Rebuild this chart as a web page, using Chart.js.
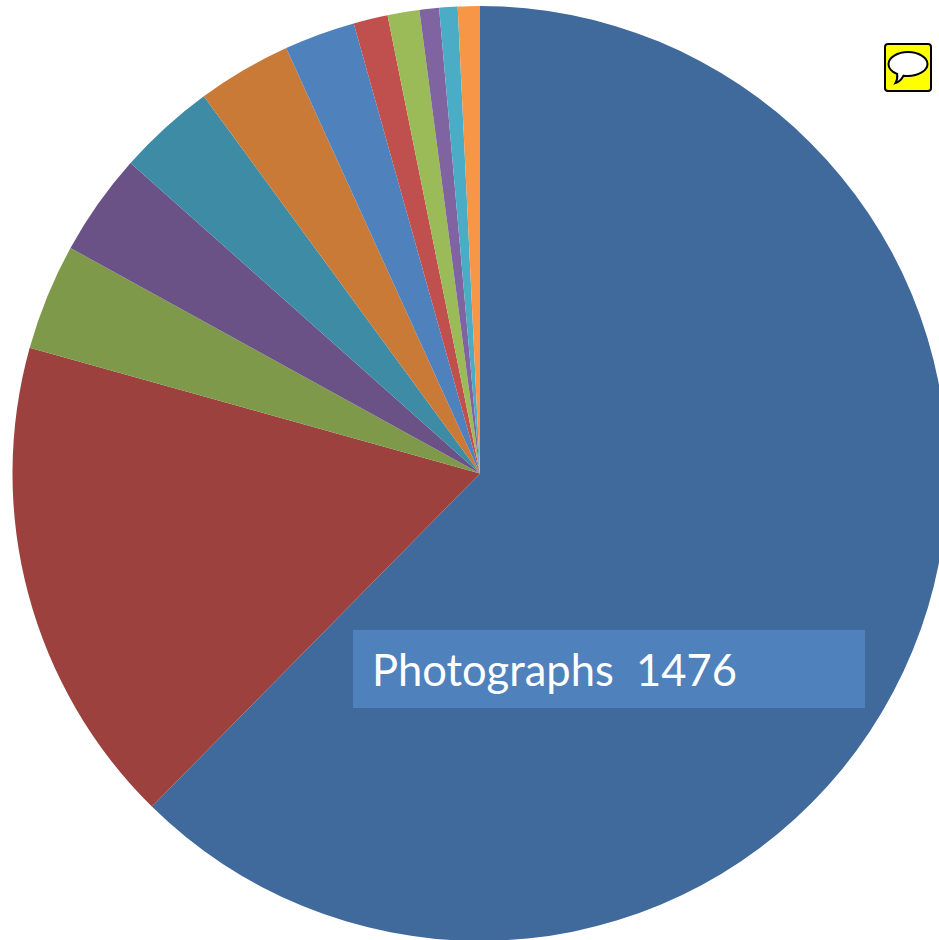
<!DOCTYPE html>
<html>
<head>
<meta charset="utf-8">
<title>Photographs</title>
<script src="https://cdn.jsdelivr.net/npm/chart.js@4"></script>
<style>
  html, body { margin: 0; padding: 0; background: #fff; overflow: hidden; width: 939px; height: 940px; }
  #wrap { position: absolute; left: 0; top: 0; width: 939px; height: 940px; overflow: hidden; }
  #holder { position: absolute; left: 0; top: 0; width: 960px; height: 947px; }
  #note { position: absolute; left: 884px; top: 43px; }
  #label { position: absolute; left: 353px; top: 630px; width: 512px; height: 78px; background: #4f81bd;
           color: #fff; font: 43.5px Lato, sans-serif; line-height: 78px; white-space: pre; text-indent: 19px; }
</style>
</head>
<body>
<div id="wrap">
  <div id="holder"><canvas id="myChart"></canvas></div>
  <div id="label"></div>
  <svg id="note" width="49" height="49" viewBox="0 0 49 49">
    <rect x="1" y="1" width="46" height="47" rx="3" fill="#ffff00" stroke="#000" stroke-width="2"/>
    <path d="M24 9 C34.5 9 43.5 14.5 43.5 21 C43.5 27.5 34.5 33 24 33 C22.5 33 21 32.9 19.5 32.7 C17.5 36.5 15 39 11.5 40 C13 37.5 13.6 34.5 13.2 31 C8 29 4.5 25 4.5 21 C4.5 14.5 13.5 9 24 9 Z"
          fill="#fff" stroke="#000" stroke-width="2"/>
  </svg>
</div>
<script>
// Values, clockwise from 12 o'clock
const categories = ['Photographs', 'B', 'C', 'D', 'E', 'F', 'G', 'H', 'I', 'J', 'K', 'L'];
const values = [1476, 401, 87, 84, 80, 77, 58, 28, 26, 16, 15, 18];
const colors = ['#416a9c', '#9c413e', '#7f994a', '#6a5287', '#3d8ba5', '#ca7a37',
                '#4f81bd', '#c0504d', '#9bbb59', '#8064a2', '#4bacc6', '#f79646'];

document.getElementById('label').textContent = categories[0] + '  ' + values[0];

const ctx = document.getElementById('myChart').getContext('2d');

const myChart = new Chart(ctx, {
  type: 'pie',
  data: {
    labels: categories,
    datasets: [{
      data: values,
      backgroundColor: colors,
      borderWidth: 0,
      radius: 467.5
    }]
  },
  options: {
    responsive: true,
    maintainAspectRatio: false,
    animation: false,
    layout: { padding: 0 },
    plugins: {
      legend: { display: false },
      tooltip: { enabled: false }
    }
  }
});
</script>
</body>
</html>
